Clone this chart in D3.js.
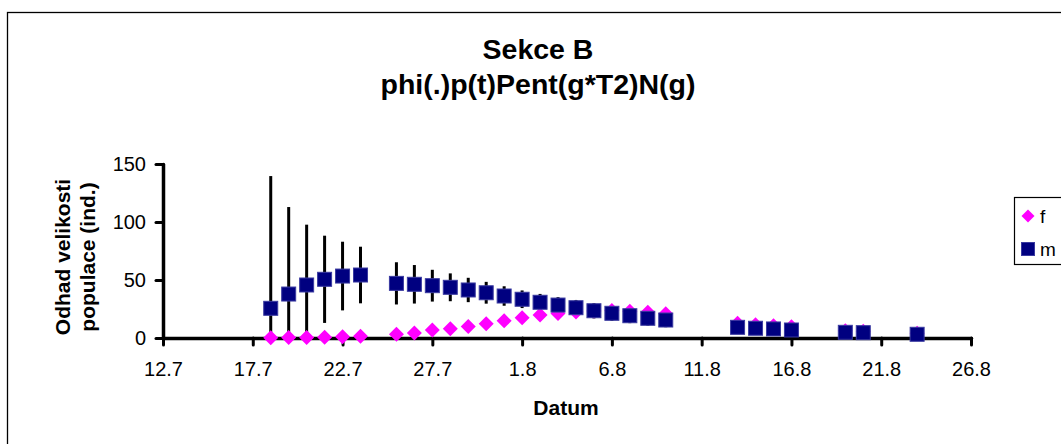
<!DOCTYPE html>
<html>
<head>
<meta charset="utf-8">
<script src="https://cdn.jsdelivr.net/npm/d3@7"></script>
<style>
  html, body { margin: 0; padding: 0; background: #fff; }
  svg { display: block; font-family: "Liberation Sans", Arial, sans-serif; }
</style>
</head>
<body>
<svg id="chart" width="1061" height="444"></svg>
<script>
// Survey dates (day.month), population estimates per sex and the SE of the male estimate
const dates = [
  "2007-07-18", "2007-07-19", "2007-07-20", "2007-07-21", "2007-07-22", "2007-07-23",
  "2007-07-25", "2007-07-26", "2007-07-27", "2007-07-28", "2007-07-29", "2007-07-30",
  "2007-07-31", "2007-08-01", "2007-08-02", "2007-08-03", "2007-08-04", "2007-08-05",
  "2007-08-06", "2007-08-07", "2007-08-08", "2007-08-09",
  "2007-08-13", "2007-08-14", "2007-08-15", "2007-08-16",
  "2007-08-19", "2007-08-20",
  "2007-08-23"
];
const femaleN = [
  0.3, 0.4, 0.5, 0.7, 1.0, 1.5,
  3.2, 4.4, 6.8, 8.0, 10.0, 12.2,
  14.8, 17.5, 19.8, 21.2, 22.4, 23.3,
  23.6, 23.1, 22.3, 20.8,
  12.7, 11.5, 10.6, 9.7,
  6.3, 5.8,
  4.1
];
const maleN = [
  25.6, 37.9, 45.7, 50.6, 53.4, 54.3,
  47.1, 46.3, 45.1, 43.7, 41.4, 39.0,
  36.2, 33.4, 30.8, 28.4, 26.1, 23.5,
  21.3, 19.2, 17.0, 15.5,
  9.2, 8.4, 7.8, 6.9,
  4.9, 4.6,
  3.2
];
const maleErr = [
  114, 75, 52, 37.6, 29.6, 24.4,
  18.2, 16.6, 13.7, 12.0, 10.5, 9.4,
  8.4, 7.6, 7.2, 6.8, 6.7, 6.6,
  6.5, 6.4, 6.3, 6.2,
  5.0, 4.8, 4.6, 4.4,
  4.0, 3.8,
  3.5
];
const xTickDates = [
  "2007-07-12", "2007-07-17", "2007-07-22", "2007-07-27", "2007-08-01",
  "2007-08-06", "2007-08-11", "2007-08-16", "2007-08-21", "2007-08-26"
];
const yTicks = [0, 50, 100, 150];
const seriesNames = ["f", "m"];
const titleLines = ["Sekce B", "phi(.)p(t)Pent(g*T2)N(g)"];
const yTitleLines = ["Odhad velikosti", "populace (ind.)"];
const xTitle = "Datum";

const parse = d3.utcParse("%Y-%m-%d");
const fmt = d3.utcFormat("%-d.%-m");
const pts = dates.map((d, i) => ({
  date: parse(d), f: femaleN[i], m: maleN[i], e: maleErr[i]
}));
const tickDates = xTickDates.map(parse);

const colF = "#ff00ff", colM = "#000080";
const svg = d3.select("#chart");

// outer chart frame (runs past the right and bottom edges)
svg.append("rect")
  .attr("x", 7.5).attr("y", 12.5)
  .attr("width", 1100).attr("height", 500)
  .attr("fill", "none").attr("stroke", "#000").attr("stroke-width", 1.3);

const x = d3.scaleUtc()
  .domain([tickDates[0], tickDates[tickDates.length - 1]])
  .range([163, 971]);
const y = d3.scaleLinear().domain([0, 150]).range([338, 164]);

// title
svg.append("g").selectAll("text").data(titleLines).join("text")
  .attr("x", 538).attr("y", (d, i) => 59 + i * 35)
  .attr("text-anchor", "middle")
  .attr("font-size", 28.5).attr("font-weight", "bold")
  .text(d => d);

// axes
const xAxis = svg.append("g").attr("transform", `translate(0,${y(0)})`)
  .call(d3.axisBottom(x).tickValues(tickDates).tickFormat(fmt)
    .tickSize(7).tickSizeOuter(0).tickPadding(17));
const yAxis = svg.append("g").attr("transform", `translate(${x.range()[0]},0)`)
  .call(d3.axisLeft(y).tickValues(yTicks).tickSize(7).tickSizeOuter(0).tickPadding(10));

[xAxis, yAxis].forEach(g => {
  g.select(".domain").attr("stroke", "#000").attr("stroke-width", 3.5)
    .attr("stroke-linecap", "round");
  g.selectAll(".tick line").attr("stroke", "#000").attr("stroke-width", 3)
    .attr("stroke-linecap", "round");
  g.selectAll(".tick text").attr("fill", "#000").attr("font-size", 20)
    .attr("font-family", "Liberation Sans, Arial, sans-serif");
});

// axis titles
svg.append("text")
  .attr("x", 566).attr("y", 415)
  .attr("text-anchor", "middle")
  .attr("font-size", 21).attr("font-weight", "bold")
  .text(xTitle);
svg.append("g").selectAll("text").data(yTitleLines).join("text")
  .attr("transform", (d, i) => `translate(${70 + i * 25},257) rotate(-90)`)
  .attr("text-anchor", "middle")
  .attr("font-size", 21).attr("font-weight", "bold")
  .text(d => d);

// error bars of the male estimate, clipped to the plotted range
svg.append("g").selectAll("line").data(pts).join("line")
  .attr("x1", d => x(d.date)).attr("x2", d => x(d.date))
  .attr("y1", d => y(Math.min(150, d.m + d.e)))
  .attr("y2", d => y(Math.max(0, d.m - d.e)))
  .attr("stroke", "#000").attr("stroke-width", 3);

// female estimates: diamonds
const diamond = r => `M0,${-r}L${r},0L0,${r}L${-r},0Z`;
svg.append("g").selectAll("path").data(pts).join("path")
  .attr("transform", d => `translate(${x(d.date)},${y(d.f)})`)
  .attr("d", diamond(7.5))
  .attr("fill", colF);

// male estimates: squares
const sq = 14;
svg.append("g").selectAll("rect").data(pts).join("rect")
  .attr("x", d => x(d.date) - sq / 2).attr("y", d => y(d.m) - sq / 2)
  .attr("width", sq).attr("height", sq)
  .attr("fill", colM).attr("stroke", "#3a3aa0").attr("stroke-width", 1);

// legend
const lg = svg.append("g");
lg.append("rect")
  .attr("x", 1014.5).attr("y", 197.5).attr("width", 80).attr("height", 67)
  .attr("fill", "#fff").attr("stroke", "#000").attr("stroke-width", 1.2);
const legendY = d3.scalePoint().domain(seriesNames).range([216, 249]);
lg.append("path")
  .attr("transform", `translate(1028,${legendY("f")})`)
  .attr("d", diamond(6.5)).attr("fill", colF);
lg.append("rect")
  .attr("x", 1028 - 6.5).attr("y", legendY("m") - 6.5)
  .attr("width", 13).attr("height", 13)
  .attr("fill", colM).attr("stroke", "#3a3aa0").attr("stroke-width", 1);
lg.selectAll("text").data(seriesNames).join("text")
  .attr("x", 1040).attr("y", d => legendY(d) + 7)
  .attr("font-size", 19)
  .text(d => d);
</script>
</body>
</html>
